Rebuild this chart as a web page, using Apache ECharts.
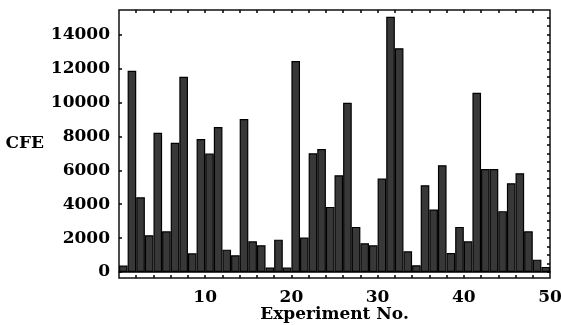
<!DOCTYPE html>
<html>
<head>
<meta charset="utf-8">
<script src="https://cdn.jsdelivr.net/npm/echarts@6/dist/echarts.min.js"></script>
<style>
  html, body { margin: 0; padding: 0; background: #fff; }
  #chart { width: 561px; height: 325px; }
</style>
</head>
<body>
<div id="chart"></div>
<script>
const experiments = Array.from({ length: 50 }, (_, i) => String(i + 1));
const cfe = [
  380, 11870, 4410, 2170, 8210, 2400, 7620, 11520, 1100, 7840,
  6990, 8550, 1320, 990, 9020, 1810, 1580, 260, 1910, 260,
  12450, 2030, 7010, 7250, 3840, 5710, 9980, 2660, 1700, 1580,
  5510, 15060, 13200, 1220, 400, 5120, 3690, 6300, 1120, 2660,
  1810, 10580, 6070, 6070, 3590, 5240, 5830, 2400, 730, 300
];
const yLabels = [0, 2000, 4000, 6000, 8000, 10000, 12000, 14000];
const yMinorTicks = Array.from({ length: 31 }, (_, i) => i * 500);
const xLabels = [10, 20, 30, 40, 50];
const xTicks = Array.from({ length: 24 }, (_, i) => (i + 1) * 2);

const font = {
  fontFamily: 'DejaVu Serif',
  fontWeight: 'bold',
  fontSize: 17,
  color: '#000'
};
const yMin = -354, yMax = 15458;

const chart = echarts.init(document.getElementById('chart'));
chart.setOption({
  animation: false,
  grid: {
    left: 119, right: 11, top: 10, bottom: 47,
    outerBoundsMode: 'none',
    show: true, borderColor: '#111', borderWidth: 1.5
  },
  xAxis: [
    {
      type: 'category',
      data: experiments,
      boundaryGap: true,
      axisLine: { onZero: true, lineStyle: { color: '#000', width: 1.5 } },
      axisTick: { show: false },
      axisLabel: { show: false },
      splitLine: { show: false }
    },
    {
      type: 'value',
      position: 'bottom',
      min: 0, max: 50,
      name: 'Experiment No.',
      nameLocation: 'middle',
      nameGap: 28,
      nameMoveOverlap: false,
      nameTextStyle: font,
      axisLine: { show: false, onZero: false },
      axisTick: { inside: true, length: 3, customValues: xTicks, lineStyle: { color: '#000', width: 1.5 } },
      axisLabel: { customValues: xLabels, margin: 11, ...font },
      splitLine: { show: false }
    },
    {
      type: 'value',
      position: 'top',
      min: 0, max: 50,
      axisLine: { show: false, onZero: false },
      axisTick: { inside: true, length: 3, customValues: xTicks, lineStyle: { color: '#000', width: 1.5 } },
      axisLabel: { show: false },
      splitLine: { show: false }
    }
  ],
  yAxis: [
    {
      type: 'value',
      position: 'left',
      min: yMin, max: yMax,
      name: 'CFE',
      nameLocation: 'middle',
      nameRotate: 0,
      nameGap: 75,
      nameMoveOverlap: false,
      nameTextStyle: font,
      axisLine: { show: false, onZero: false },
      axisTick: { inside: true, length: 3, customValues: yLabels, lineStyle: { color: '#000', width: 1.5 } },
      axisLabel: { customValues: yLabels, margin: 9, formatter: (v) => String(v), ...font },
      splitLine: { show: false }
    },
    {
      type: 'value',
      position: 'right',
      min: yMin, max: yMax,
      axisLine: { show: false, onZero: false },
      axisTick: { inside: true, length: 3, customValues: yMinorTicks, lineStyle: { color: '#000', width: 1.5 } },
      axisLabel: { show: false },
      splitLine: { show: false }
    }
  ],
  series: [
    {
      type: 'bar',
      xAxisIndex: 0,
      yAxisIndex: 0,
      data: cfe,
      barCategoryGap: '0%',
      itemStyle: { color: '#383838', borderColor: '#000', borderWidth: 1.2 }
    }
  ]
});
</script>
</body>
</html>
